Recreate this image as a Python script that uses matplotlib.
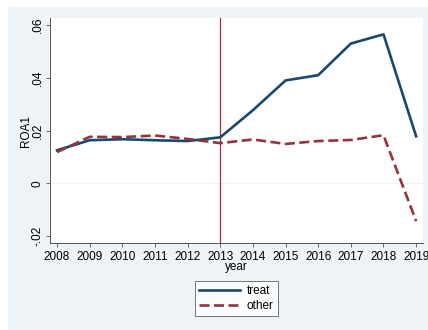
import matplotlib
matplotlib.use("Agg")
import matplotlib.pyplot as plt
from matplotlib.patches import Rectangle

plt.rcParams["font.family"] = ["Liberation Sans", "DejaVu Sans"]

years = [2008, 2009, 2010, 2011, 2012, 2013, 2014, 2015, 2016, 2017, 2018, 2019]
treat = [0.0125, 0.0163, 0.0167, 0.0163, 0.0160, 0.0174, 0.0277, 0.0390, 0.0410, 0.0530, 0.0565, 0.0178]
other = [0.0118, 0.0176, 0.0175, 0.0181, 0.0168, 0.0152, 0.0166, 0.0149, 0.0160, 0.0164, 0.0182, -0.0144]
yticks = [-0.02, 0.0, 0.02, 0.04, 0.06]
yticklabels = ["-.02", "0", ".02", ".04", ".06"]
event_year = 2013

W, H = 428, 330
fs = 8.5
fig = plt.figure(figsize=(W / 100, H / 100), dpi=100, facecolor="white")
bg = Rectangle((8 / W, 0), (W - 8) / W, (H - 7) / H, transform=fig.transFigure,
               facecolor="#eef3f7", edgecolor="none", zorder=-10)
fig.patches.append(bg)

ax = fig.add_axes([50 / W, (H - 243) / H, 373 / W, 225 / H])
ax.set_zorder(1)
ax.set_facecolor("white")
ax.axhline(0, color="#f1f1f1", lw=0.8, zorder=1)
ax.plot(years, treat, color="#1a476f", lw=1.9, label="treat", zorder=3)
ax.plot(years, other, color="#90353b", lw=1.9, ls=(0, (3.8, 1.7)), label="other", zorder=3)
ax.axvline(event_year, color="#b0243f", lw=0.9, zorder=2)

ax.set_xlim(2007.785, 2019.21)
ax.set_ylim(-0.0227, 0.0627)
ax.set_xticks(years)
ax.set_xticklabels([str(y) for y in years], fontsize=fs)
ax.set_yticks(yticks)
ax.set_yticklabels(yticklabels, fontsize=fs, rotation=90, va="center")
ax.tick_params(axis="both", length=3, width=0.6, color="#555555", pad=2.5)
ax.tick_params(axis="y", pad=1.5)
for s in ["top", "right"]:
    ax.spines[s].set_visible(False)
for s in ["left", "bottom"]:
    ax.spines[s].set_color("#555555")
    ax.spines[s].set_linewidth(0.7)

ax.set_xlabel("year", fontsize=fs, labelpad=-1)
ax.set_ylabel("ROA1", fontsize=fs, labelpad=0)

leg = fig.legend(loc="center", bbox_to_anchor=(236.5 / W, 1 - 298.5 / H), fontsize=fs,
                 frameon=True, fancybox=False, handlelength=3.4, borderpad=0.35,
                 labelspacing=0.25, handletextpad=0.6)
leg.get_frame().set_edgecolor("#555555")
leg.get_frame().set_linewidth(0.7)

fig.savefig("out.png", dpi=100, facecolor=fig.get_facecolor())
